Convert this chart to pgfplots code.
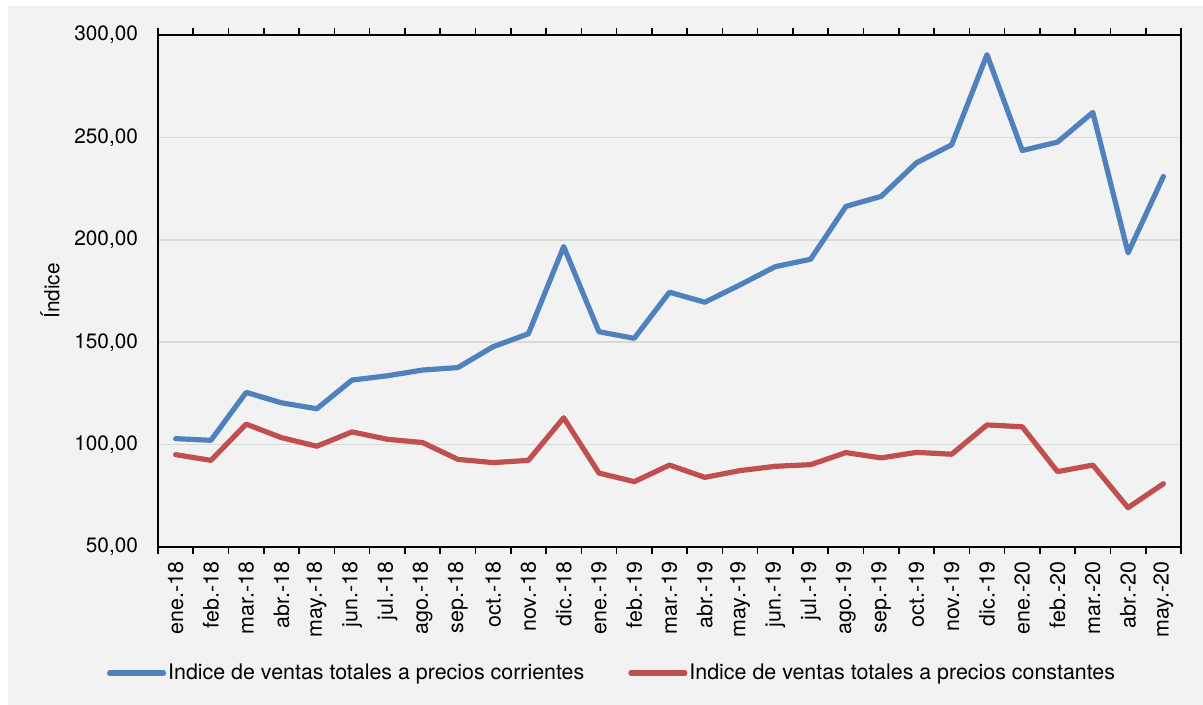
\documentclass[border=0pt]{standalone}
\usepackage{fontspec}
\setmainfont{TeX Gyre Heros}
\usepackage{pgfplots}
\pgfplotsset{compat=1.18}
\definecolor{bg}{HTML}{F2F2F2}
\definecolor{gridc}{HTML}{D9D9D9}
\definecolor{serA}{HTML}{4F81BD}
\definecolor{serB}{HTML}{C0504D}
\newcommand{\fs}{\fontsize{10.4}{12}\selectfont}
\newcommand{\fl}{\fontsize{10.7}{12}\selectfont}
\begin{document}
\begin{tikzpicture}
\useasboundingbox[fill=white] (0,0) rectangle (601.5pt,-352.5pt);
\fill[bg] (4pt,-3pt) rectangle (601.5pt,-352.5pt);
\begin{axis}[
  at={(79pt,-17.5pt)}, anchor=north west,
  scale only axis, width=511.5pt, height=256pt,
  xmin=-0.5, xmax=28.5, ymin=50, ymax=300,
  ytick={50,100,...,300},
  ymajorgrids, grid style={gridc, line width=0.8pt},
  xtick={0,...,28},
  xticklabels={ene.-18,feb.-18,mar.-18,abr.-18,may.-18,jun.-18,jul.-18,ago.-18,sep.-18,oct.-18,nov.-18,dic.-18,ene.-19,feb.-19,mar.-19,abr.-19,may.-19,jun.-19,jul.-19,ago.-19,sep.-19,oct.-19,nov.-19,dic.-19,ene.-20,feb.-20,mar.-20,abr.-20,may.-20},
  minor xtick={-0.5,0.5,...,28.5},
  major tick length=0pt, minor tick length=3.5pt, tick align=outside,
  tick style={black, line width=0.8pt},
  axis line style={black, line width=0.8pt},
  axis background/.style={fill=bg},
  xticklabel style={rotate=90, anchor=east, font=\fl, xshift=-4pt},
  yticklabel style={font=\fs, xshift=-6.5pt},
  /pgf/number format/.cd, use comma, fixed, fixed zerofill, precision=2, assume math mode=true, /pgfplots/.cd,
  ylabel={Índice},
  every axis y label/.style={at={(axis description cs:0,0.5)}, xshift=-54pt, rotate=90, anchor=center, font=\fs},
  legend style={at={(axis description cs:0.4438,-0.246)}, anchor=center, draw=none, fill=none, font=\fl,
    nodes={inner sep=1pt},
    /tikz/every even column/.append style={column sep=21pt}},
  legend columns=2,
  legend image code/.code={\draw[#1] (0pt,0pt) -- (27pt,0pt);},
  every axis plot/.append style={line width=2.6pt, line join=round, line cap=round},
]
\addplot[serA] coordinates {
(0,102.9) (1,102.1) (2,125.5) (3,120.4) (4,117.5) (5,131.5) (6,133.6) (7,136.4) (8,137.6) (9,147.8) (10,154.1)
(11,196.7) (12,155.1) (13,151.9) (14,174.4) (15,169.5) (16,178.0) (17,186.9) (18,190.5) (19,216.3) (20,221.2)
(21,237.6) (22,246.4) (23,290.4) (24,243.6) (25,247.7) (26,262.2) (27,193.6) (28,230.9)};
\addlegendentry{Indice de ventas totales a precios corrientes}
\addplot[serB] coordinates {
(0,95.1) (1,92.3) (2,110.0) (3,103.4) (4,99.2) (5,106.2) (6,102.6) (7,101.0) (8,92.8) (9,91.2) (10,92.3)
(11,113.1) (12,86.1) (13,81.9) (14,90.0) (15,84.0) (16,87.3) (17,89.4) (18,90.2) (19,96.1) (20,93.5)
(21,96.2) (22,95.3) (23,109.6) (24,108.7) (25,86.8) (26,90.0) (27,69.2) (28,80.9)};
\addlegendentry{Indice de ventas totales a precios constantes}
\end{axis}
\end{tikzpicture}
\end{document}
